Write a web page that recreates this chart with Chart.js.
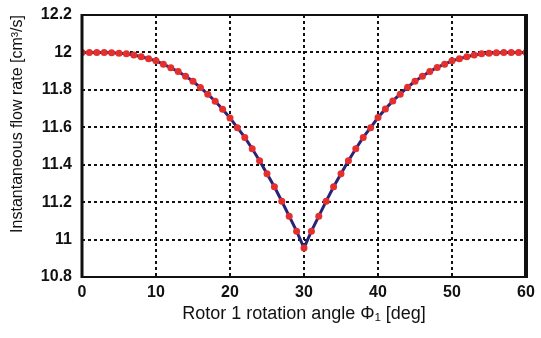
<!DOCTYPE html>
<html>
<head>
<meta charset="utf-8">
<script src="https://cdn.jsdelivr.net/npm/chart.js@4/dist/chart.umd.min.js"></script>
<style>
  html, body { margin: 0; padding: 0; background: #fff; overflow: hidden; }
  canvas { display: block; }
</style>
</head>
<body>
<canvas id="flow-chart" width="541" height="338"></canvas>
<script>
// ===== data =====
const angles = [0, 1, 2, 3, 4, 5, 6, 7, 8, 9, 10, 11, 12, 13, 14, 15, 16, 17, 18, 19, 20,
  21, 22, 23, 24, 25, 26, 27, 28, 29, 30, 31, 32, 33, 34, 35, 36, 37, 38, 39, 40,
  41, 42, 43, 44, 45, 46, 47, 48, 49, 50, 51, 52, 53, 54, 55, 56, 57, 58, 59, 60];
const flowRate = [
  12.0, 12.0, 12.0, 12.0, 11.998, 11.996, 11.993, 11.986, 11.977, 11.966, 11.955,
  11.937, 11.918, 11.898, 11.873, 11.846, 11.812, 11.777, 11.739, 11.696, 11.650,
  11.598, 11.546, 11.485, 11.421, 11.352, 11.282, 11.205, 11.125, 11.045, 10.955,
  11.045, 11.125, 11.205, 11.282, 11.352, 11.421, 11.485, 11.546, 11.598, 11.652,
  11.698, 11.741, 11.777, 11.814, 11.846, 11.873, 11.898, 11.920, 11.937, 11.955,
  11.966, 11.977, 11.986, 11.993, 11.996, 11.998, 12.0, 12.0, 12.0, 12.0
];
const xTicks = [0, 10, 20, 30, 40, 50, 60];
const yTicks = ["10.8", "11", "11.2", "11.4", "11.6", "11.8", "12", "12.2"];

const points = angles.map((a, i) => ({ x: a, y: flowRate[i] }));

// frame around the plot (matlab style box)
const boxPlugin = {
  id: "box",
  afterDraw(chart) {
    const { ctx, chartArea: a } = chart;
    ctx.save();
    ctx.strokeStyle = "#111";
    ctx.lineWidth = 2;
    ctx.beginPath();
    ctx.moveTo(a.left, a.top);
    ctx.lineTo(a.right, a.top);
    ctx.moveTo(a.left, a.bottom);
    ctx.lineTo(a.right, a.bottom);
    ctx.stroke();
    ctx.lineWidth = 3;
    ctx.beginPath();
    ctx.moveTo(a.left, a.top - 1);
    ctx.lineTo(a.left, a.bottom + 1);
    ctx.stroke();
    ctx.lineWidth = 4;
    ctx.beginPath();
    ctx.moveTo(a.right, a.top - 1);
    ctx.lineTo(a.right, a.bottom + 1);
    ctx.stroke();
    ctx.restore();
  }
};

const gridStyle = {
  color: "#111",
  lineWidth: 2,
  drawTicks: false
};

new Chart(document.getElementById("flow-chart"), {
  type: "line",
  data: {
    datasets: [{
      data: points,
      borderColor: "#27237a",
      borderWidth: 3,
      pointRadius: 3.5,
      pointBackgroundColor: "#e4302c",
      pointBorderWidth: 0,
      tension: 0
    }]
  },
  options: {
    responsive: false,
    animation: false,
    devicePixelRatio: 1,
    layout: { padding: { top: 15, right: 15, left: 0, bottom: 0 } },
    plugins: { legend: { display: false }, tooltip: { enabled: false } },
    scales: {
      x: {
        type: "linear",
        min: 0,
        max: 60,
        afterBuildTicks: s => { s.ticks = xTicks.map(v => ({ value: v })); },
        afterFit: s => { s.height = 61; s.paddingLeft = 0; s.paddingRight = 0; },
        grid: gridStyle,
        border: { display: false, dash: [3, 3] },
        ticks: {
          color: "#111",
          padding: 6,
          autoSkip: false,
          maxRotation: 0,
          font: { family: "Liberation Sans", size: 16, weight: "bold" }
        },
        title: {
          display: true,
          text: "Rotor 1 rotation angle Φ₁ [deg]",
          color: "#111",
          padding: { top: 0, bottom: 13 },
          font: { family: "Liberation Sans", size: 18 }
        }
      },
      y: {
        min: 10.8,
        max: 12.2,
        afterBuildTicks: s => { s.ticks = yTicks.map(v => ({ value: parseFloat(v) })); },
        afterFit: s => { s.width = 82; s.paddingTop = 0; s.paddingBottom = 0; },
        grid: gridStyle,
        border: { display: false, dash: [3, 3] },
        ticks: {
          color: "#111",
          padding: 10,
          autoSkip: false,
          font: { family: "Liberation Sans", size: 16, weight: "bold" },
          callback: (v, i) => yTicks[i]
        },
        title: {
          display: true,
          text: "Instantaneous flow rate [cm³/s]",
          align: "end",
          color: "#111",
          padding: { top: 8, bottom: 0 },
          font: { family: "Liberation Sans", size: 16 }
        }
      }
    }
  },
  plugins: [boxPlugin]
});
</script>
</body>
</html>
